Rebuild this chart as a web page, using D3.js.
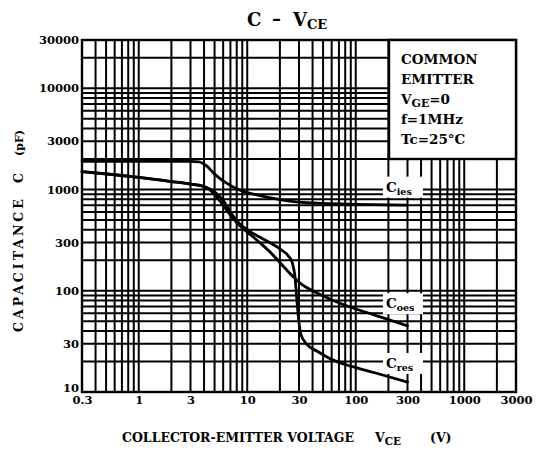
<!DOCTYPE html>
<html>
<head>
<meta charset="utf-8">
<script src="https://cdn.jsdelivr.net/npm/d3@7"></script>
<style>
  html, body { margin: 0; padding: 0; background: #fff; }
  svg text { font-family: "DejaVu Serif", "Liberation Serif", serif; fill: #000; font-weight: bold; }
</style>
</head>
<body>
<svg id="chart" width="536" height="456"></svg>
<script>
// Capacitance vs collector-emitter voltage (log-log)
const xTickLabels = [0.3, 1, 3, 10, 30, 100, 300, 1000, 3000];
const yTickLabels = [10, 30, 100, 300, 1000, 3000, 10000, 30000];

// Input capacitance
const ciesV = [0.3, 1, 2, 3, 3.6, 4.2, 5, 6.5, 8.5, 12, 16, 22, 30, 50, 100, 300];
const ciesC = [1900, 1900, 1900, 1900, 1880, 1720, 1420, 1150, 990, 890, 830, 780, 750, 730, 715, 700];

// Output capacitance
const coesV = [0.3, 0.6, 1, 2, 3, 4, 5, 6, 7, 8.5, 10, 13, 17, 22, 27, 32, 40, 55, 80, 120, 200, 300];
const coesC = [1500, 1400, 1320, 1200, 1130, 1070, 900, 700, 560, 440, 380, 300, 230, 170, 135, 115, 100, 85, 72, 62, 52, 45];

// Reverse transfer capacitance
const cresV = [0.3, 0.6, 1, 2, 3, 4, 5, 6, 7, 8.5, 10, 13, 17, 21, 24, 26, 27.5, 29, 31, 35, 45, 60, 90, 150, 300];
const cresC = [1500, 1400, 1320, 1200, 1130, 1070, 950, 780, 600, 460, 400, 340, 290, 250, 220, 190, 140, 70, 38, 30, 25, 21, 18, 15.5, 12.5];

const svg = d3.select("#chart");

const x = d3.scaleLog().domain([0.3, 3000]).range([82, 516]);
const y = d3.scaleLog().domain([10, 30000]).range([392, 40]);

// Grid
const gridG = svg.append("g");
gridG.selectAll("line.vx").data(x.ticks()).join("line")
  .attr("x1", d => x(d)).attr("x2", d => x(d))
  .attr("y1", y(10)).attr("y2", y(30000))
  .attr("stroke", "#000").attr("stroke-width", 2);
gridG.selectAll("line.hy").data(y.ticks()).join("line")
  .attr("y1", d => y(d)).attr("y2", d => y(d))
  .attr("x1", x(0.3)).attr("x2", x(3000))
  .attr("stroke", "#000").attr("stroke-width", 2);

// Curves
const line = d3.line().curve(d3.curveMonotoneX);
function drawCurve(vs, cs) {
  const pts = vs.map((v, i) => [x(v), y(cs[i])]);
  svg.append("path").attr("d", line(pts))
    .attr("fill", "none").attr("stroke", "#000").attr("stroke-width", 2.8)
    .attr("stroke-linejoin", "round").attr("stroke-linecap", "round");
}
drawCurve(ciesV, ciesC);
drawCurve(coesV, coesC);
drawCurve(cresV, cresC);

// Curve labels with white backing, sitting just above each curve's end
function curveLabel(name, sub, v, c) {
  const g = svg.append("g").attr("transform", `translate(${x(v)},${y(c)})`);
  g.append("rect").attr("x", -3).attr("y", -12).attr("width", 40).attr("height", 21).attr("fill", "#fff");
  const t = g.append("text").attr("x", 0).attr("y", 3).attr("font-size", 13.5);
  t.append("tspan").text(name);
  t.append("tspan").attr("font-size", 9.5).attr("dy", 3).text(sub);
}
curveLabel("C", "ies", 190, 1020);
curveLabel("C", "oes", 190, 72);
curveLabel("C", "res", 190, 18.5);

// Frame
svg.append("rect")
  .attr("x", x(0.3)).attr("y", y(30000))
  .attr("width", x(3000) - x(0.3)).attr("height", y(10) - y(30000))
  .attr("fill", "none").attr("stroke", "#000").attr("stroke-width", 2.4);

// Condition box
const boxX = 389, boxY = y(30000), boxW = x(3000) - 389, boxH = 119;
svg.append("rect").attr("x", boxX).attr("y", boxY).attr("width", boxW).attr("height", boxH)
  .attr("fill", "#fff").attr("stroke", "#000").attr("stroke-width", 2.4);
const condLines = [["COMMON"], ["EMITTER"], ["V", "GE", "=0"], ["f=1MHz"], ["Tc=25\u00B0C"]];
condLines.forEach((l, i) => {
  const t = svg.append("text").attr("x", boxX + 12).attr("y", boxY + 24 + i * 20)
    .attr("font-size", 13.5);
  t.append("tspan").text(l[0]);
  if (l.length === 3) {
    t.append("tspan").attr("font-size", 11).attr("dy", 3).text(l[1]);
    t.append("tspan").attr("dy", -3).text(l[2]);
  }
});

// Axes tick labels
const xAxis = d3.axisBottom(x).tickValues(xTickLabels).tickSize(0).tickPadding(4)
  .tickFormat(d => String(d));
const gx = svg.append("g").attr("transform", `translate(0,${y(10)})`).call(xAxis);
gx.select(".domain").remove();
gx.selectAll("text").attr("font-size", 11.5).attr("font-weight", "bold")
  .attr("font-family", "DejaVu Serif, serif").attr("fill", "#000");

const yAxis = d3.axisLeft(y).tickValues(yTickLabels).tickSize(0).tickPadding(3)
  .tickFormat(d => String(d));
const gy = svg.append("g").attr("transform", `translate(${x(0.3)},0)`).call(yAxis);
gy.select(".domain").remove();
gy.selectAll("text").attr("font-size", 11.5).attr("font-weight", "bold")
  .attr("font-family", "DejaVu Serif, serif").attr("fill", "#000");
gy.selectAll(".tick").filter(d => d === 10).select("text").attr("dy", "-0.05em");

// Title
const title = svg.append("g");
title.append("text").attr("x", 247).attr("y", 26).attr("font-size", 18).text("C");
title.append("text").attr("x", 272).attr("y", 25).attr("font-size", 18).text("\u2013");
const tv = title.append("text").attr("x", 293).attr("y", 26).attr("font-size", 18);
tv.append("tspan").text("V");
tv.append("tspan").attr("font-size", 13).attr("dy", 3).text("CE");

// X axis title
const xt = svg.append("text").attr("x", 122).attr("y", 442).attr("font-size", 12.5);
xt.text("COLLECTOR-EMITTER VOLTAGE");
const xv = svg.append("text").attr("x", 375).attr("y", 442).attr("font-size", 12.5);
xv.append("tspan").text("V");
xv.append("tspan").attr("font-size", 10.5).attr("dy", 3).text("CE");
svg.append("text").attr("x", 430).attr("y", 442).attr("font-size", 12.5).text("(V)");

// Y axis title (rotated)
const yg = svg.append("g").attr("transform", "translate(23,0)");
yg.append("text").attr("transform", "translate(0,332) rotate(-90)").attr("font-size", 12.5)
  .attr("letter-spacing", 3).text("CAPACITANCE");
yg.append("text").attr("transform", "translate(0,183) rotate(-90)").attr("font-size", 12.5).text("C");
yg.append("text").attr("transform", "translate(0,156) rotate(-90)").attr("font-size", 11).text("(pF)");
</script>
</body>
</html>
